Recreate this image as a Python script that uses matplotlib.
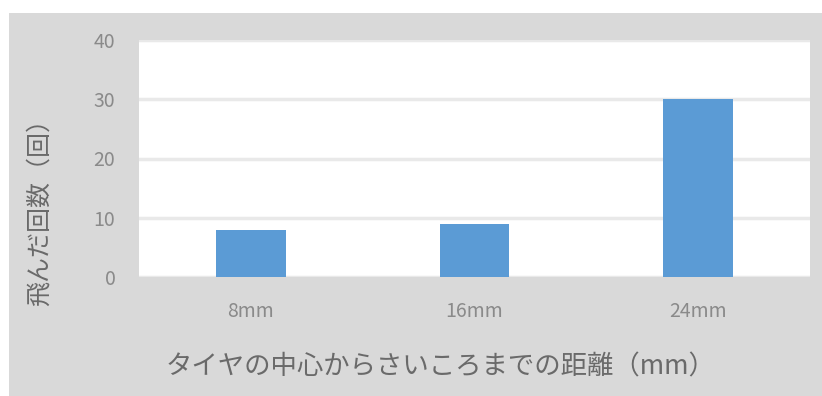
import matplotlib.pyplot as plt
from matplotlib.patches import Rectangle

plt.rcParams['font.family'] = ['Noto Sans CJK JP', 'DejaVu Sans']

categories = ["8mm", "16mm", "24mm"]
jumps = [8, 9, 30]
y_ticks = [0, 10, 20, 30, 40]

fig = plt.figure(figsize=(8.22, 3.96), dpi=100)
fig.patch.set_facecolor("white")

# gray chart-area background, offset like the original
fig.patches.append(Rectangle((9 / 822, 0), 1 - 9 / 822, (396 - 13) / 396,
                             transform=fig.transFigure, facecolor="#d9d9d9",
                             edgecolor="none", zorder=-5))

ax = fig.add_axes([139 / 822, 119 / 396, 671 / 822, 237 / 396])
ax.set_facecolor("white")

x = range(len(categories))
ax.bar(x, jumps, width=0.31, color="#5b9bd5", zorder=3)

ax.set_xlim(-0.5, len(categories) - 0.5)
ax.set_ylim(0, 40)
ax.set_yticks(y_ticks)
ax.set_xticks(list(x))
ax.set_xticklabels(categories)
ax.grid(axis="y", color="#e9e9e9", linewidth=2.5, zorder=0)
ax.set_axisbelow(True)

for s in ax.spines.values():
    s.set_visible(False)
ax.tick_params(length=0, colors="#8a8a8a", labelsize=14)
ax.tick_params(axis="x", pad=17)
ax.tick_params(axis="y", pad=17)

ax.set_xlabel("タイヤの中心からさいころまでの距離（mm）", fontsize=19,
              color="#6a6a6a", va="center")
ax.xaxis.set_label_coords(0.449, -0.38)
ax.set_ylabel("飛んだ回数（回）", fontsize=18, color="#6a6a6a", va="center")
ax.yaxis.set_label_coords(-0.1475, 0.30)

fig.savefig("out.png", dpi=100, facecolor=fig.get_facecolor())
